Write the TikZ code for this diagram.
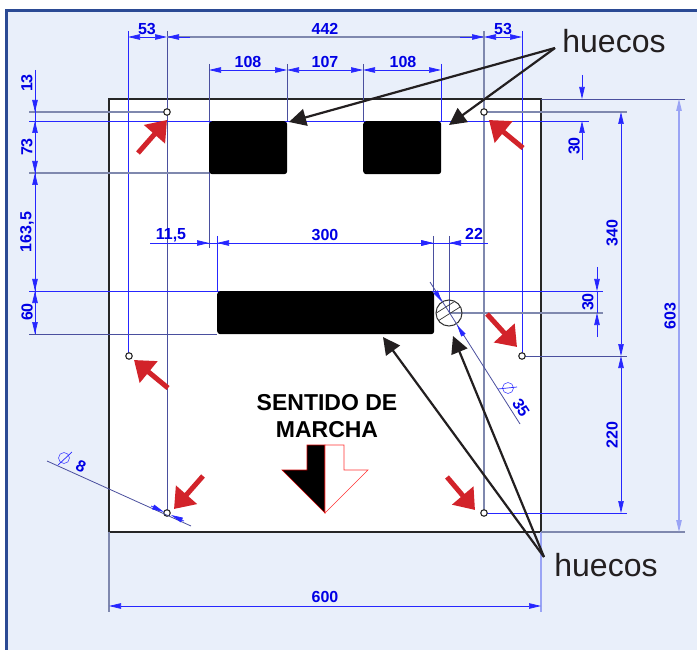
\documentclass[tikz,border=0pt]{standalone}
\usepackage{fontspec}
\setmainfont{Liberation Sans}
\usetikzlibrary{arrows.meta}
\definecolor{panelblue}{HTML}{E9EFFA}
\definecolor{panelline}{HTML}{2B4A94}
\definecolor{dimgrey}{HTML}{7F88AE}
\definecolor{dimnavy}{HTML}{4A4F9E}
\definecolor{dimpale}{HTML}{9AA4F5}
\definecolor{signred}{HTML}{D2232A}
\definecolor{textblack}{HTML}{231F20}
\tikzstyle{dimline} = [draw=blue!85!white,line width=0.7pt]
\tikzstyle{dimgreyline} = [draw=dimgrey,line width=1.1pt]
\tikzstyle{dimnavyline} = [draw=dimnavy,line width=0.8pt]
\tikzstyle{dimpaleline} = [draw=dimpale,line width=1.2pt]
\tikzstyle{dimtext} = [text=blue!90!black,font=\fontsize{16}{17}\selectfont\bfseries,inner sep=0pt]
\tikzstyle{dimtips} = [{Triangle[length=12pt,width=5.5pt]}-{Triangle[length=12pt,width=5.5pt]},shorten >=0pt,shorten <=0pt]
\tikzstyle{hole} = [circle,draw=black!85,line width=1.1pt,fill=white,minimum size=6.5pt,inner sep=0pt]
\tikzstyle{window} = [fill=black,rounded corners=3pt]
\tikzstyle{redarrow} = [draw=signred,line width=5pt,-{Triangle[length=19pt,width=27pt,fill=signred]}]
\tikzstyle{pointer} = [draw=textblack,line width=2.2pt,-{Triangle[length=17pt,width=17pt,fill=textblack]}]
\tikzstyle{huecostext} = [text=textblack,font=\fontsize{32}{33}\selectfont,inner sep=0pt]
\tikzstyle{marchatext} = [align=center,font=\fontsize{23}{27}\selectfont\bfseries,inner sep=0pt]

\begin{document}
\begin{tikzpicture}[x=1pt,y=-1pt]
    \useasboundingbox (0,0) rectangle (697,650);
    % panel and plate
    \fill [panelblue] (6,11) rectangle (697,650);
    \draw [panelline,line width=3pt] (6,650) -- (6,11) -- (697,11);
    \draw [fill=white,draw=black!85,line width=2pt] (109,99) rectangle (541,532);

    % extension lines, vertical
    \draw [dimline] (128,31) -- (128,356);
    \draw [dimnavyline] (167,31) -- (167,513);
    \draw [dimgreyline] (484,31) -- (484,513);
    \draw [dimline] (522,31) -- (522,356);
    \draw [dimnavyline] (209,64) -- (209,248);
    \draw [dimnavyline] (287,64) -- (287,121);
    \draw [dimnavyline] (363,64) -- (363,121);
    \draw [dimline] (441,64) -- (441,121);
    \draw [dimline] (217,236) -- (217,291);
    \draw [dimnavyline] (433,236) -- (433,291);
    \draw [dimnavyline] (449,236) -- (449,313);
    \draw [dimgreyline] (109,532) -- (109,612);
    \draw [dimpaleline] (541,532) -- (541,612);

    % extension lines, horizontal
    \draw [dimgreyline] (29,112) -- (167,112);
    \draw [dimgreyline] (484,112) -- (627,112);
    \draw [dimline] (29,121) -- (589,121);
    \draw [dimgreyline] (29,173) -- (209,173);
    \draw [dimline] (29,291) -- (603,291);
    \draw [dimnavyline] (29,334) -- (217,334);
    \draw [dimgreyline] (449,313) -- (603,313);
    \draw [dimnavyline] (541,99) -- (685,99);
    \draw [dimnavyline] (522,356) -- (627,356);
    \draw [dimline] (484,513) -- (627,513);
    \draw [dimgreyline] (541,532) -- (685,532);

    % windows and slot
    \node [window,minimum width=78pt,minimum height=53pt,anchor=north west,inner sep=0pt] (winleft) at (209,121) {};
    \node [window,minimum width=78pt,minimum height=53pt,anchor=north west,inner sep=0pt] (winright) at (363,121) {};
    \node [window,minimum width=217pt,minimum height=43pt,anchor=north west,inner sep=0pt] (slot) at (217,291) {};

    % hatched bore
    \begin{scope}
      \clip (449,313) circle (13pt);
      \foreach \hatchy in {-14,-5,4,13} {
        \draw [black!80,line width=0.7pt] (430,313+\hatchy) -- (468,313+\hatchy-24);
      }
    \end{scope}
    \node [circle,draw=black!80,line width=1pt,minimum size=26pt,inner sep=0pt] (bore) at (449,313) {};

    % fixing holes
    \node [hole] (holea) at (167,112) {};
    \node [hole] (holeb) at (484,112) {};
    \node [hole] (holec) at (129,356) {};
    \node [hole] (holed) at (522,356) {};
    \node [hole] (holee) at (167,513) {};
    \node [hole] (holef) at (484,513) {};

    % dimensions, top
    \draw [dimline,dimtips] (128,37) -- (167,37);
    \draw [dimgreyline] (167,37) -- (484,37);
    \draw [dimline,-{Triangle[length=12pt,width=5.5pt]}] (190,37) -- (167,37);
    \draw [dimline,-{Triangle[length=12pt,width=5.5pt]}] (460,37) -- (484,37);
    \draw [dimline,dimtips] (484,37) -- (522,37);
    \node [dimtext] (lbla) at (147,29) {53};
    \node [dimtext] (lblb) at (325,29) {442};
    \node [dimtext] (lblc) at (503,29) {53};
    \draw [dimline,dimtips] (209,70) -- (287,70);
    \draw [dimline,dimtips] (287,70) -- (363,70);
    \draw [dimline,dimtips] (363,70) -- (441,70);
    \node [dimtext] (lbld) at (248,62) {108};
    \node [dimtext] (lble) at (325,62) {107};
    \node [dimtext] (lblf) at (403,62) {108};

    % dimensions, middle
    \draw [dimline] (150,243) -- (488,243);
    \draw [dimline,-{Triangle[length=12pt,width=5.5pt]}] (190,243) -- (209,243);
    \draw [dimline,dimtips] (217,243) -- (433,243);
    \draw [dimline,-{Triangle[length=12pt,width=5.5pt]}] (415,243) -- (433,243);
    \draw [dimline,-{Triangle[length=12pt,width=5.5pt]}] (470,243) -- (449,243);
    \node [dimtext] (lblg) at (171,235) {11,5};
    \node [dimtext] (lblh) at (325,235) {300};
    \node [dimtext] (lbli) at (474,234) {22};

    % dimensions, left
    \draw [dimline] (35,70) -- (35,334);
    \draw [dimline,-{Triangle[length=12pt,width=5.5pt]}] (35,90) -- (35,112);
    \draw [dimline,dimtips] (35,121) -- (35,173);
    \draw [dimline,dimtips] (35,173) -- (35,291);
    \draw [dimline,dimtips] (35,291) -- (35,334);
    \node [dimtext,rotate=90] (lblj) at (27,83) {13};
    \node [dimtext,rotate=90] (lblk) at (27,147) {73};
    \node [dimtext,rotate=90] (lbll) at (27,232) {163,5};
    \node [dimtext,rotate=90] (lblm) at (27,312) {60};

    % dimensions, right
    \draw [dimline,-{Triangle[length=12pt,width=5.5pt]}] (582,75) -- (582,99);
    \draw [dimline,-{Triangle[length=12pt,width=5.5pt]}] (582,160) -- (582,121);
    \node [dimtext,rotate=90] (lbln) at (574,146) {30};
    \draw [dimline,-{Triangle[length=12pt,width=5.5pt]}] (597,267) -- (597,291);
    \draw [dimline,-{Triangle[length=12pt,width=5.5pt]}] (597,337) -- (597,313);
    \draw [dimline] (597,291) -- (597,313);
    \node [dimtext,rotate=90] (lblo) at (588,302) {30};
    \draw [dimline,dimtips] (621,112) -- (621,356);
    \draw [dimline,dimtips] (621,356) -- (621,513);
    \node [dimtext,rotate=90] (lblp) at (612,233) {340};
    \node [dimtext,rotate=90] (lblq) at (612,435) {220};
    \draw [dimpaleline,dimtips] (679,99) -- (679,532);
    \node [dimtext,rotate=90] (lblr) at (670,316) {603};

    % dimensions, bottom
    \draw [dimline,dimtips] (109,606) -- (541,606);
    \node [dimtext] (lbls) at (325,597) {600};

    % diameters
    \draw [dimnavyline] (430,282) -- (520,424);
    \draw [dimline,-{Triangle[length=12pt,width=5pt]}] (435,291) -- (442,302);
    \draw [dimline,-{Triangle[length=12pt,width=5pt]}] (464,336) -- (457,325);
    \draw [draw=blue!70,line width=0.6pt] (508,388) circle (5.5pt);
    \draw [dimline] (498,389) -- (517,387);
    \node [dimtext,rotate=-57] (lblt) at (521,408) {35};
    \draw [dimnavyline] (47,461) -- (191,526);
    \draw [dimline,-{Triangle[length=12pt,width=5pt]}] (151,506) -- (164,512);
    \draw [dimline,-{Triangle[length=12pt,width=5pt]}] (184,521) -- (171,515);
    \draw [draw=blue!70,line width=0.6pt] (64,458) circle (5.5pt);
    \draw [dimline] (58,465) -- (72,452);
    \node [dimtext,rotate=-25] (lblu) at (81,466) {8};

    % red arrows
    \draw [redarrow] (138,153) -- (167,120);
    \draw [redarrow] (523,148) -- (489,120);
    \draw [redarrow] (487,314) -- (517,347);
    \draw [redarrow] (168,388) -- (134,360);
    \draw [redarrow] (203,476) -- (174,509);
    \draw [redarrow] (447,477) -- (475,510);

    % direction sign
    \node [marchatext] (marcha) at (327,416) {SENTIDO DE\\MARCHA};
    \draw [draw=red!80!black,line width=0.6pt,fill=black] (325,445) -- (307,445) -- (307,470) -- (282,470) -- (325,513) -- cycle;
    \draw [draw=red!80!white,line width=0.6pt,fill=white] (325,445) -- (344,445) -- (344,470) -- (368,470) -- (325,513) -- cycle;

    % callouts
    \node [huecostext] (huecostop) at (614,41) {huecos};
    \node [huecostext] (huecosbot) at (606,565) {huecos};
    \coordinate (junctop) at (555,48);
    \coordinate (junctbot) at (544,557);
    \coordinate (tipa) at (289,122);
    \coordinate (tipb) at (449,125);
    \coordinate (tipc) at (383,337);
    \coordinate (tipd) at (453,336);
    \draw [pointer] (junctop) -- (tipa);
    \draw [pointer] (junctop) -- (tipb);
    \draw [pointer] (junctbot) -- (tipc);
    \draw [pointer] (junctbot) -- (tipd);
  \end{tikzpicture}
\end{document}
